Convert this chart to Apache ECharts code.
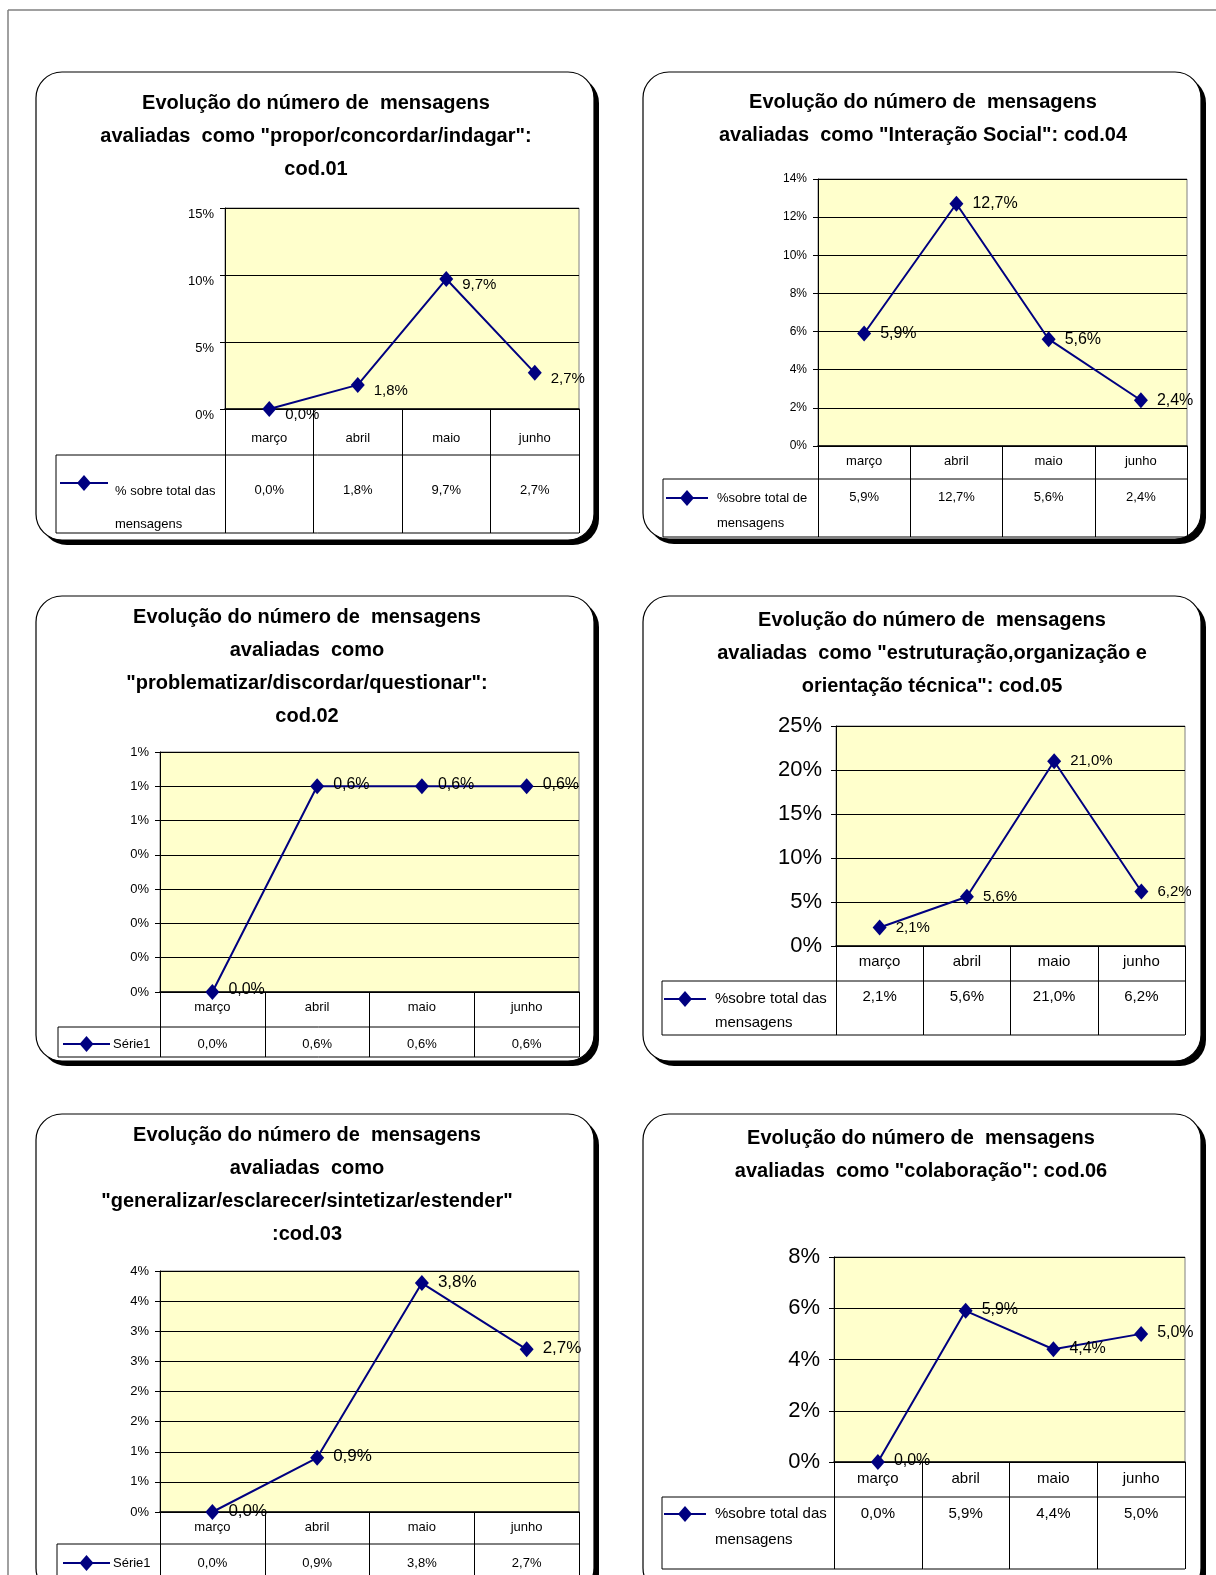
<!DOCTYPE html>
<html>
<head>
<meta charset="utf-8">
<script src="https://cdn.jsdelivr.net/npm/echarts@6/dist/echarts.min.js"></script>
<style>
html, body { margin: 0; padding: 0; background: #fff; }
#main { width: 1216px; height: 1575px; }
</style>
</head>
<body>
<div id="main"></div>
<script>
// dados (em %)
var months = ['março', 'abril', 'maio', 'junho'];
var cod01 = [0.0, 1.8, 9.7, 2.7];
var cod04 = [5.9, 12.7, 5.6, 2.4];
var cod02 = [0.0, 0.6, 0.6, 0.6];
var cod05 = [2.1, 5.6, 21.0, 6.2];
var cod03 = [0.0, 0.9, 3.8, 2.7];
var cod06 = [0.0, 5.9, 4.4, 5.0];

var titles = [
	'Evolução do número de  mensagens\navaliadas  como "propor/concordar/indagar":\ncod.01',
	'Evolução do número de  mensagens\navaliadas  como "Interação Social": cod.04',
	'Evolução do número de  mensagens\navaliadas  como\n"problematizar/discordar/questionar":\ncod.02',
	'Evolução do número de  mensagens\navaliadas  como "estruturação,organização e\norientação técnica": cod.05',
	'Evolução do número de  mensagens\navaliadas  como\n"generalizar/esclarecer/sintetizar/estender"\n:cod.03',
	'Evolução do número de  mensagens\navaliadas  como "colaboração": cod.06'
];
var seriesNames = [
	['% sobre total das', 'mensagens'],
	['%sobre total de', 'mensagens'],
	['Série1'],
	['%sobre total das', 'mensagens'],
	['Série1'],
	['%sobre total das', 'mensagens']
];
var seriesData = [cod01, cod04, cod02, cod05, cod03, cod06];
var yMax = [15, 14, 0.7, 25, 4, 8];
var yStep = [5, 2, 0.1, 5, 0.5, 2];

// layout de cada quadro
var panels = [
	{box: [36, 72, 558, 468], plot: [225, 208, 579, 409], row1: 455, tb: 533, legL: 56, tx: 316, ty: 103,
		yFont: 13, yTop: true, mFont: 13, mMargin: 23, valY: 490, dl: 15, dlOff: [0, 6], key: [60, 108, 483], kx: 115, ky: [491, 524]},
	{box: [643, 72, 558, 467], plot: [818, 179, 1187, 446], row1: 479, tb: 537, legL: 663, tx: 923, ty: 102,
		yFont: 12, mFont: 13, mMargin: 9, valY: 497, dl: 16, dlOff: [0, 0], key: [666, 708, 498], kx: 717, ky: [498, 523]},
	{box: [36, 596, 558, 465], plot: [160, 752, 579, 992], row1: 1027, tb: 1057, legL: 58, tx: 307, ty: 617,
		yFont: 13, mFont: 13, mMargin: 9, valY: 1044, dl: 16, dlOff: [0, -2], key: [63, 110, 1044], kx: 113, ky: [1044]},
	{box: [643, 596, 558, 465], plot: [836, 726, 1185, 946], row1: 981, tb: 1035, legL: 662, tx: 932, ty: 620,
		yFont: 22, mFont: 15, mMargin: 8, valY: 997, dl: 15, dlOff: [0, 0], key: [664, 706, 999], kx: 715, ky: [999, 1023]},
	{box: [36, 1114, 558, 480], plot: [160, 1271, 579, 1512], row1: 1544, tb: 1600, legL: 57, tx: 307, ty: 1135,
		yFont: 13, mFont: 13, mMargin: 9, valY: 1563, dl: 17, dlOff: [0, -1], key: [63, 110, 1563], kx: 113, ky: [1563]},
	{box: [643, 1114, 558, 480], plot: [834, 1257, 1185, 1462], row1: 1497, tb: 1569, legL: 662, tx: 921, ty: 1138,
		yFont: 22, mFont: 15, mMargin: 9, valY: 1514, dl: 16, dlOff: [0, -1], key: [664, 706, 1514], kx: 715, ky: [1514, 1540]}
];

var FONT = "'Liberation Sans Narrow', 'Arial Narrow', 'Liberation Sans', sans-serif";
var NAVY = '#000080';

function pct(v) {
	return v.toFixed(1).replace('.', ',') + '%';
}

var dom = document.getElementById('main');
var myChart = echarts.init(dom);

var option = {
	backgroundColor: '#fff',
	animation: false,
	title: [],
	grid: [],
	xAxis: [],
	yAxis: [],
	series: []
};

for (var i = 0; i < panels.length; i++) {
	var p = panels[i];
	option.title.push({
		text: titles[i],
		left: p.tx,
		top: p.ty - 16.5,
		padding: 0,
		textAlign: 'center',
		textStyle: {fontFamily: FONT, fontWeight: 'bold', fontSize: 20, lineHeight: 33, color: '#000'}
	});
	option.grid.push({
		left: p.plot[0],
		top: p.plot[1],
		width: p.plot[2] - p.plot[0],
		height: p.plot[3] - p.plot[1],
		show: true,
		backgroundColor: '#FFFFCC',
		borderColor: '#808080',
		borderWidth: 1
	});
	option.xAxis.push({
		type: 'category',
		gridIndex: i,
		data: months,
		boundaryGap: true,
		axisLine: {lineStyle: {color: '#000', width: 1.5}},
		axisTick: {show: true, interval: 0, length: p.tb - p.plot[3], lineStyle: {color: '#000', width: 1}},
		axisLabel: {interval: 0, margin: p.mMargin, fontSize: p.mFont, fontFamily: FONT, color: '#000'}
	});
	option.yAxis.push({
		type: 'value',
		gridIndex: i,
		min: 0,
		max: yMax[i],
		interval: yStep[i],
		axisLine: {show: true, lineStyle: {color: '#000', width: 1}},
		axisTick: {show: true, length: 5, lineStyle: {color: '#000'}},
		splitLine: {show: true, lineStyle: {color: '#000', width: 1}},
		axisLabel: {
			fontSize: p.yFont, fontFamily: FONT, color: '#000', margin: p.yFont > 20 ? 14 : 11,
			verticalAlign: p.yTop ? 'top' : 'middle',
			formatter: function (v) { return Math.round(v) + '%'; }
		}
	});
	option.series.push({
		type: 'line',
		xAxisIndex: i,
		yAxisIndex: i,
		data: seriesData[i],
		symbol: 'diamond',
		symbolSize: [14, 16],
		color: NAVY,
		lineStyle: {color: NAVY, width: 2},
		itemStyle: {color: NAVY},
		label: {
			show: true, position: 'right', distance: 9, offset: p.dlOff,
			fontSize: p.dl, fontFamily: FONT, color: '#000',
			formatter: function (o) { return pct(o.value); }
		}
	});
}

myChart.setOption(option);

// molduras, tabela de dados e legenda
var graphics = [];
graphics.push({type: 'line', z: -5, shape: {x1: 8, y1: 10, x2: 1216, y2: 10}, style: {stroke: '#808080', lineWidth: 1.5}});
graphics.push({type: 'line', z: -5, shape: {x1: 8, y1: 10, x2: 8, y2: 1575}, style: {stroke: '#808080', lineWidth: 1.5}});
for (var i = 0; i < panels.length; i++) {
	var p = panels[i];
	var b = p.box;
	graphics.push({type: 'rect', z: -10, shape: {x: b[0] + 5, y: b[1] + 5, width: b[2], height: b[3], r: 26}, style: {fill: '#000'}});
	graphics.push({type: 'rect', z: -9, shape: {x: b[0], y: b[1], width: b[2], height: b[3], r: 26}, style: {fill: '#fff', stroke: '#000', lineWidth: 1.2}});

	var right = p.plot[2];
	graphics.push({type: 'line', z: 20, shape: {x1: p.legL, y1: p.row1, x2: right, y2: p.row1}, style: {stroke: '#000', lineWidth: 1}});
	graphics.push({type: 'line', z: 20, shape: {x1: p.legL, y1: p.tb, x2: right, y2: p.tb}, style: {stroke: '#000', lineWidth: 1}});
	graphics.push({type: 'line', z: 20, shape: {x1: p.legL, y1: p.row1, x2: p.legL, y2: p.tb}, style: {stroke: '#000', lineWidth: 1}});

	for (var j = 0; j < months.length; j++) {
		var cx = myChart.convertToPixel({xAxisIndex: i}, months[j]);
		graphics.push({
			type: 'text', z: 20, x: cx, y: p.valY,
			style: {text: pct(seriesData[i][j]), fill: '#000', font: p.mFont + 'px ' + FONT, textAlign: 'center', textVerticalAlign: 'middle'}
		});
	}

	var k = p.key;
	var mx = (k[0] + k[1]) / 2;
	graphics.push({type: 'line', z: 20, shape: {x1: k[0], y1: k[2], x2: k[1], y2: k[2]}, style: {stroke: NAVY, lineWidth: 2}});
	graphics.push({type: 'polygon', z: 21, shape: {points: [[mx, k[2] - 8], [mx + 7, k[2]], [mx, k[2] + 8], [mx - 7, k[2]]]}, style: {fill: NAVY}});
	for (var n = 0; n < seriesNames[i].length; n++) {
		graphics.push({
			type: 'text', z: 20, x: p.kx, y: p.ky[n],
			style: {text: seriesNames[i][n], fill: '#000', font: p.mFont + 'px ' + FONT, textAlign: 'left', textVerticalAlign: 'middle'}
		});
	}
}
myChart.setOption({graphic: graphics});
</script>
</body>
</html>
